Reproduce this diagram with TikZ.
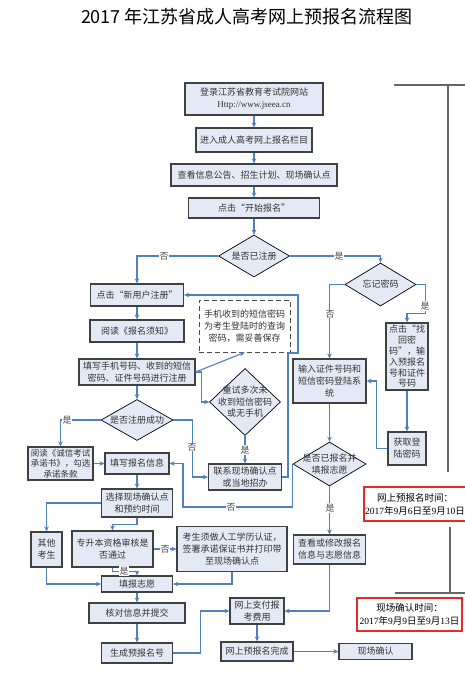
\documentclass[tikz,border=0pt]{standalone}
\usepackage{fontspec}
\setmainfont{Liberation Serif}
\newfontfamily\cjk{Noto Sans CJK SC}
\usetikzlibrary{shapes.geometric,arrows.meta,calc}
\definecolor{boxfill}{RGB}{228,234,245}
\definecolor{arrowblue}{RGB}{79,129,189}
\definecolor{redbox}{RGB}{235,40,40}
\newcommand\Cj[1]{{\cjk #1}}
\begin{document}
\begin{tikzpicture}[x=1pt,y=-1pt,
  every node/.style={inner sep=1pt},
  box/.style={draw=black!75, line width=1.1pt, fill=boxfill, text=black!80,
    font=\cjk\fontsize{9}{12}\selectfont, align=center},
  dia/.style={diamond, draw=black, line width=0.7pt, fill=boxfill, inner sep=0pt},
  dtext/.style={text=black!80, font=\cjk\fontsize{9}{11.5}\selectfont, align=center, inner sep=0pt},
  note/.style={draw=black!70, line width=1pt, dash pattern=on 5pt off 3pt, fill=white,
    text=black!80, font=\cjk\fontsize{9}{12}\selectfont, align=center},
  flow/.style={draw=arrowblue, line width=1.1pt, -{Stealth[length=5pt,width=4.5pt]}},
  lab/.style={fill=white, font=\cjk\fontsize{9}{9}\selectfont, text=black!70, inner sep=0.6pt},
  timebox/.style={draw=redbox, line width=2pt, fill=white, text=black,
    font=\fontsize{9.5}{13}\selectfont, align=center},
  grayline/.style={draw=black!60, line width=1.4pt}]
\fill[white] (0,0) rectangle (465,677);
\useasboundingbox (0,0) rectangle (465,677);

\node[font=\cjk\fontsize{18}{20}\selectfont] (title) at (247,17) {2017 年江苏省成人高考网上预报名流程图};

% main column
\node[box, minimum width=138pt, minimum height=32pt] (b1) at (254,99) {登录江苏省教育考试院网站\\{\rmfamily Http://www.jseea.cn}};
\node[box, minimum width=116pt, minimum height=24pt] (b2) at (254,140) {进入成人高考网上报名栏目};
\node[box, minimum width=166pt, minimum height=22pt] (b3) at (254,175) {查看信息公告、招生计划、现场确认点};
\node[box, minimum width=131pt, minimum height=20pt] (b4) at (254,208) {点击“开始报名”};
\node[dia, minimum width=71pt, minimum height=42pt, label={[dtext]center:是否已注册}] (d1) at (254,256) {};

% left part
\node[box, minimum width=93pt, minimum height=22pt] (n1) at (137,295) {点击“新用户注册”};
\node[box, minimum width=94pt, minimum height=22pt] (n2) at (137,331) {阅读《报名须知》};
\node[note, minimum width=91pt, minimum height=52pt] (nt) at (244.5,326) {手机收到的短信密码\\为考生登陆时的查询\\密码，需妥善保存};
\node[box, minimum width=116pt, minimum height=26pt] (n3) at (137,372) {填写手机号码、收到的短信\\密码、证件号码进行注册};
\node[dia, minimum width=72pt, minimum height=41pt, label={[dtext]center:是否注册成功}] (d2) at (137,420) {};
\node[dia, minimum width=71pt, minimum height=67pt, label={[dtext]center:{重试多次未\\收到短信密码\\或无手机}}] (d3) at (245,402) {};
\node[box, minimum width=73pt, minimum height=26pt] (n4) at (245,477) {联系现场确认点\\或当地招办};
\node[box, minimum width=65pt, minimum height=33pt, font=\cjk\fontsize{8.5}{10.5}\selectfont] (n5) at (60.5,463.5) {阅读《诚信考试\\承诺书》，勾选\\承诺条款};
\node[box, minimum width=64pt, minimum height=21pt] (n6) at (137,463.5) {填写报名信息};
\node[box, minimum width=71pt, minimum height=28pt] (n7) at (137,503) {选择现场确认点\\和预约时间};
\node[box, minimum width=31pt, minimum height=35pt] (n8) at (46.5,549.5) {其他\\考生};
\node[box, minimum width=81pt, minimum height=36pt] (n9) at (112.5,549) {专升本资格审核是\\否通过};
\node[box, minimum width=110pt, minimum height=45pt] (n10) at (232,549) {考生须做人工学历认证，\\签署承诺保证书并打印带\\至现场确认点};
\node[box, minimum width=71pt, minimum height=16pt] (n11) at (137,584) {填报志愿};
\node[box, minimum width=96pt, minimum height=20pt] (n12) at (137,613) {核对信息并提交};
\node[box, minimum width=71pt, minimum height=20pt] (n13) at (137,653) {生成预报名号};

% right part
\node[dia, minimum width=71pt, minimum height=43pt, label={[dtext]center:忘记密码}] (d4) at (380.5,284.5) {};
\node[box, minimum width=42pt, minimum height=67pt, font=\cjk\fontsize{9}{10.8}\selectfont] (n14) at (407,356.5) {点击“找\\回密\\码”，输\\入预报名\\号和证件\\号码};
\node[box, minimum width=38pt, minimum height=33pt] (n15) at (407,448.5) {获取登\\陆密码};
\node[box, minimum width=73pt, minimum height=44pt] (n16) at (329.5,381) {输入证件号码和\\短信密码登陆系\\统};
\node[dia, minimum width=73pt, minimum height=44pt, label={[dtext]center:{是否已报名并\\填报志愿}}] (d5) at (329.5,464) {};
\node[box, minimum width=72pt, minimum height=29pt] (n17) at (329.5,549.5) {查看或修改报名\\信息与志愿信息};
\node[box, minimum width=54pt, minimum height=26pt] (n18) at (257,611) {网上支付报\\考费用};
\node[box, minimum width=72pt, minimum height=19pt] (n19) at (257,651.5) {网上预报名完成};
\node[box, minimum width=73pt, minimum height=16pt] (n20) at (375.5,651.5) {现场确认};

% time boxes
\node[timebox, minimum width=98pt, minimum height=34pt] (r1) at (415,504) {\Cj{网上预报名时间：}\\2017\Cj{年}9\Cj{月}6\Cj{日至}9\Cj{月}10\Cj{日}};
\node[timebox, minimum width=105pt, minimum height=33pt] (r2) at (409.5,614.5) {\Cj{现场确认时间：}\\2017\Cj{年}9\Cj{月}9\Cj{日至}9\Cj{月}13\Cj{日}};

% gray timeline lines
\coordinate (g1) at (394,85);
\coordinate (g2) at (465,85);
\coordinate (g3) at (448,85);
\coordinate (g4) at (448,472);
\coordinate (g5) at (450,527);
\coordinate (g6) at (450,593);
\coordinate (g7) at (395,593);
\coordinate (g8) at (465,593);
\draw[grayline] (g1) -- (g2);
\draw[grayline] (g3) -- (g4);
\draw[grayline] (g5) -- (g6);
\draw[grayline] (g7) -- (g8);

% connectors
\coordinate (lp1) at (288,353);
\coordinate (lp2) at (298,353);
\coordinate (c1) at (183,507);
\draw[flow] (b1) -- (b2);
\draw[flow] (b2) -- (b3);
\draw[flow] (b3) -- (b4);
\draw[flow] (b4) -- (d1);
\draw[flow] (d1.west) -| (n1.north);
\draw[flow] (d1.east) -| (d4.north);
\draw[flow] (n1) -- (n2);
\draw[flow] (n2) -- (n3);
\draw[flow] (n3) -- (d2);
\draw[flow] (n3.east) -- (nt.south);
\draw[flow] (n3.east) -- ++(6,0) |- (d3.west);
\draw[flow] (d3) -- (n4);
\draw[flow] (n4.east) -| (lp1) -- (lp2) |- (n1.east);
\draw[flow] (d2.west) -| (n5.north);
\draw[flow] (d2.east) -- ++(19,0) |- (n4.west);
\draw[flow] (n5) -- (n6);
\draw[flow] (d5.west) |- (c1) |- (n6.east);
\draw[flow] (n6) -- (n7);
\draw[flow] (n7.west) -| (n8.north);
\draw[flow] (n7.south) -- ++(0,7) -| (n9.north);
\draw[flow] (n9.east) -- (n9.east -| n10.west);
\draw[flow] (n9.south) -- ++(0,4) -| (n11.north);
\draw[flow] (n8.south) |- (n11.west);
\draw[flow] (n10.south) |- (n11.east);
\draw[flow] (n11) -- (n12);
\draw[flow] (n12) -- (n13);
\draw[flow] (n13.east) -- ++(27,0) |- (n18.west);
\draw[flow] (n18) -- (n19);
\draw[flow] (n19.east) -- (n19.east -| n20.west);
\draw[flow] (d4.west) -| (n16.north);
\draw[flow] (d4.east) -- ++(9,0) -- ++(0,29) -| (n14.north);
\draw[flow] (n14) -- (n15);
\draw[flow] (n15.west) -- ++(-11,0) |- (n16.east);
\draw[flow] (n16) -- (d5);
\draw[flow] (d5) -- (n17);
\draw[flow] (n17.south) |- (n18.east);

% branch labels
\node[lab] (l1) at (164,256) {否};
\node[lab] (l2) at (339,256) {是};
\node[lab] (l3) at (245,450) {是};
\node[lab] (l4) at (67,420) {是};
\node[lab] (l5) at (192,447) {否};
\node[lab] (l6) at (231,507) {否};
\node[lab] (l7) at (165,549) {否};
\node[lab] (l8) at (124,571) {是};
\node[lab] (l9) at (330,314) {否};
\node[lab] (l10) at (425,306) {是};
\node[lab] (l11) at (330,508) {是};
\end{tikzpicture}
\end{document}
